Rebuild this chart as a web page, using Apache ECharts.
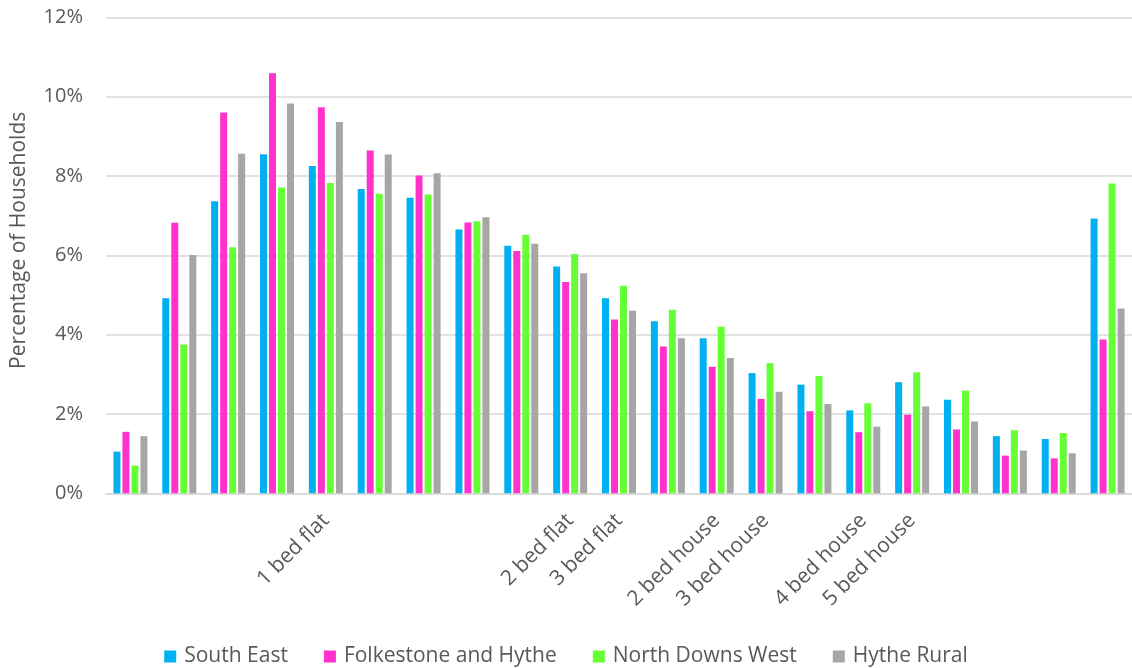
<!DOCTYPE html>
<html>
<head>
<meta charset="utf-8">
<script src="https://cdn.jsdelivr.net/npm/echarts@6/dist/echarts.min.js"></script>
<style>html,body{margin:0;padding:0;background:#fff}#c{width:1132px;height:668px}</style>
</head>
<body>
<div id="c"></div>
<script>
const tickLabels = ['', '', '', '', '1 bed flat', '', '', '', '', '2 bed flat', '3 bed flat', '', '2 bed house', '3 bed house', '', '4 bed house', '5 bed house', '', '', '', ''];
const seriesNames = ['South East', 'Folkestone and Hythe', 'North Downs West', 'Hythe Rural'];
const southEast = [1.05, 4.92, 7.36, 8.55, 8.25, 7.67, 7.45, 6.65, 6.24, 5.72, 4.92, 4.34, 3.91, 3.03, 2.74, 2.09, 2.80, 2.36, 1.44, 1.37, 6.93];
const folkestoneHythe = [1.55, 6.82, 9.60, 10.59, 9.73, 8.64, 8.01, 6.83, 6.11, 5.33, 4.38, 3.70, 3.19, 2.38, 2.07, 1.54, 1.98, 1.61, 0.95, 0.88, 3.88];
const northDownsWest = [0.70, 3.75, 6.20, 7.71, 7.82, 7.55, 7.53, 6.86, 6.52, 6.03, 5.23, 4.63, 4.20, 3.28, 2.96, 2.27, 3.05, 2.59, 1.59, 1.52, 7.81];
const hytheRural = [1.44, 6.01, 8.56, 9.83, 9.36, 8.54, 8.07, 6.96, 6.29, 5.55, 4.60, 3.91, 3.41, 2.56, 2.25, 1.68, 2.19, 1.81, 1.08, 1.01, 4.66];
const yTicks = [0, 2, 4, 6, 8, 10, 12];

const colors = ['#00B0F0', '#FF33CC', '#66FF33', '#A6A6A6'];
const values = [southEast, folkestoneHythe, northDownsWest, hytheRural];
const FONT = 'Open Sans';
const TXT = '#595959';

const chart = echarts.init(document.getElementById('c'), null, {renderer: 'canvas'});
chart.setOption({
  animation: false,
  textStyle: {fontFamily: FONT},
  grid: {left: 106, top: 17.3, width: 1030, height: 476, containLabel: false},
  legend: {
    data: seriesNames,
    top: 641,
    left: 'center',
    itemWidth: 12,
    itemHeight: 12,
    itemGap: 36,
    icon: 'rect',
    textStyle: {fontFamily: FONT, fontSize: 21, color: TXT, padding: [0, 0, 0, 3]}
  },
  xAxis: {
    type: 'category',
    data: tickLabels,
    boundaryGap: true,
    axisTick: {show: false},
    axisLine: {lineStyle: {color: '#d9d9d9', width: 1.5}},
    axisLabel: {interval: 0, rotate: 45, margin: 24, fontFamily: FONT, fontSize: 21, color: TXT}
  },
  yAxis: {
    type: 'value',
    min: yTicks[0],
    max: yTicks[yTicks.length - 1],
    interval: 2,
    name: 'Percentage of Households',
    nameLocation: 'middle',
    nameGap: 76,
    nameTextStyle: {fontFamily: FONT, fontSize: 21, color: TXT, padding: [0, 0, 0, 30]},
    axisLine: {show: false},
    axisTick: {show: false},
    splitLine: {lineStyle: {color: '#d9d9d9', width: 1.5}},
    axisLabel: {formatter: '{value}%', margin: 23, fontFamily: FONT, fontSize: 20, color: TXT}
  },
  series: seriesNames.map((n, i) => ({
    name: n,
    type: 'bar',
    data: values[i],
    barWidth: 7,
    barGap: '28.57%',
    itemStyle: {color: colors[i]}
  }))
});
</script>
</body>
</html>
